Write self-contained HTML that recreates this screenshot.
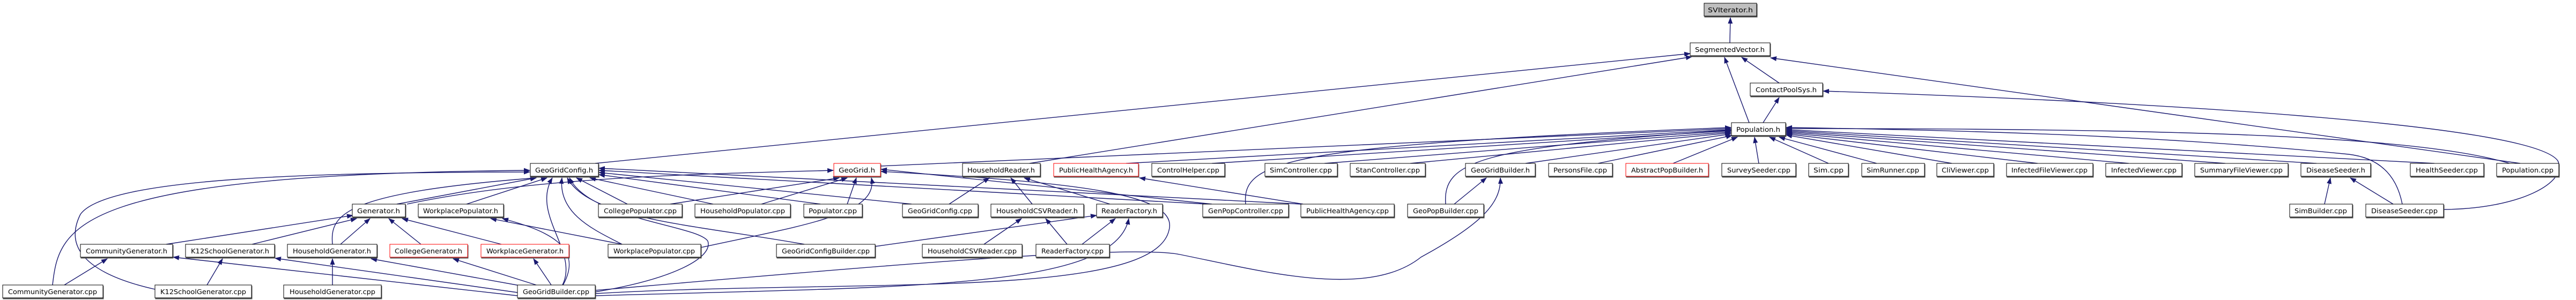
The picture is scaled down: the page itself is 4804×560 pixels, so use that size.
<!DOCTYPE html>
<html><head><meta charset="utf-8"><style>
html,body{margin:0;padding:0;background:#fff;}
svg{display:block;}
text{font-family:"DejaVu Sans","Liberation Sans",sans-serif;font-size:12px;fill:#000;}
.e{fill:none;stroke:#191970;stroke-width:1.4;marker-end:url(#a);}
.n rect{fill:#fff;stroke:#000;stroke-width:1;filter:drop-shadow(1px 2px 0 #555);}
</style></head><body>
<svg width="4804" height="560" viewBox="0 0 4804 560" xmlns="http://www.w3.org/2000/svg">
<defs><marker id="a" markerWidth="12" markerHeight="9" refX="11" refY="4.5" orient="auto" markerUnits="userSpaceOnUse"><path d="M0,0 L12,4.5 L0,9 z" fill="#191970"/></marker></defs>
<g>
<path class="e" d="M3226,80 L3227,33"/>
<path class="e" d="M3262,229 L3216,107"/>
<path class="e" d="M3318,155 L3248,107"/>
<path class="e" d="M3288,229 L3318,182"/>
<path class="e" d="M1110,305 L3152,100"/>
<path class="e" d="M1920,305 L3155,106"/>
<path class="e" d="M4700,305 L3302,108"/>
<path class="e" d="M4557,391 C4700,390 4790,340 4770,300 C4720,230 4000,190 3400,170"/>
<path class="e" d="M1642,310 L3228,240"/>
<path class="e" d="M2100,305 L3228,242"/>
<path class="e" d="M2260,305 L3228,244"/>
<path class="e" d="M2470,305 L3228,246"/>
<path class="e" d="M2630,305 L3228,248"/>
<path class="e" d="M2845,305 L3228,250"/>
<path class="e" d="M2980,305 L3230,253"/>
<path class="e" d="M3120,305 L3240,256"/>
<path class="e" d="M2323,381 C2315,300 2400,270 3228,238"/>
<path class="e" d="M2696,381 C2690,300 2760,275 3228,243"/>
<path class="e" d="M3280,305 L3272,256"/>
<path class="e" d="M3410,305 L3300,256"/>
<path class="e" d="M3500,305 L3318,256"/>
<path class="e" d="M3640,305 L3331,252"/>
<path class="e" d="M3800,305 L3331,250"/>
<path class="e" d="M3970,305 L3331,248"/>
<path class="e" d="M4150,305 L3331,246"/>
<path class="e" d="M4320,305 L3331,244"/>
<path class="e" d="M4540,305 L3331,242"/>
<path class="e" d="M4680,305 C4500,250 4000,240 3331,240"/>
<path class="e" d="M4480,381 C4470,330 4440,295 4380,288 C4100,260 3800,245 3331,238"/>
<path class="e" d="M740,381 L1000,332"/>
<path class="e" d="M870,381 L1020,332"/>
<path class="e" d="M1170,381 L1075,332"/>
<path class="e" d="M1330,381 L1100,332"/>
<path class="e" d="M1530,381 L1117,326"/>
<path class="e" d="M1700,381 L1117,322"/>
<path class="e" d="M620,456 C615,400 640,360 1000,332"/>
<path class="e" d="M98,532 C110,420 140,325 988,318"/>
<path class="e" d="M289,540 C200,520 110,480 150,400 C200,330 600,322 988,321"/>
<path class="e" d="M1049,532 C1080,470 990,400 1030,332"/>
<path class="e" d="M1160,456 C1110,430 1040,400 1048,332"/>
<path class="e" d="M1500,456 C1300,420 1100,410 1058,332"/>
<path class="e" d="M2250,381 L1117,318"/>
<path class="e" d="M2426,381 L1117,314"/>
<path class="e" d="M1110,545 C1260,520 1330,480 1320,450 C1300,420 1100,410 1062,332"/>
<path class="e" d="M759,381 C1000,330 1300,325 1554,318"/>
<path class="e" d="M1250,381 L1565,332"/>
<path class="e" d="M1420,381 L1580,332"/>
<path class="e" d="M1580,381 L1597,332"/>
<path class="e" d="M1307,462 C1500,420 1640,400 1625,332"/>
<path class="e" d="M2260,381 L1643,316"/>
<path class="e" d="M1110,548 C1600,520 2150,560 2180,430 C2200,360 2000,340 1643,320"/>
<path class="e" d="M1770,381 L1845,332"/>
<path class="e" d="M1925,381 L1885,332"/>
<path class="e" d="M2070,381 L1910,332"/>
<path class="e" d="M2430,381 L2125,332"/>
<path class="e" d="M1835,456 L1905,408"/>
<path class="e" d="M1990,456 L1950,408"/>
<path class="e" d="M1632,460 L2045,402"/>
<path class="e" d="M2018,456 L2080,408"/>
<path class="e" d="M1110,552 C1700,535 2080,540 2105,408"/>
<path class="e" d="M2712,381 L2772,332"/>
<path class="e" d="M1110,542 C1600,500 2100,455 2200,475 C2350,505 2550,560 2650,480 C2760,420 2800,380 2798,332"/>
<path class="e" d="M4335,381 L4346,332"/>
<path class="e" d="M4463,381 L4383,332"/>
<path class="e" d="M310,456 L658,402"/>
<path class="e" d="M470,456 L665,408"/>
<path class="e" d="M635,456 L690,408"/>
<path class="e" d="M785,456 L725,408"/>
<path class="e" d="M935,456 L750,408"/>
<path class="e" d="M1160,456 L915,408"/>
<path class="e" d="M1050,532 C1090,460 1020,430 937,408"/>
<path class="e" d="M120,532 L200,483"/>
<path class="e" d="M965,552 L323,480"/>
<path class="e" d="M386,532 L415,483"/>
<path class="e" d="M965,546 L513,482"/>
<path class="e" d="M620,532 L620,483"/>
<path class="e" d="M980,535 L692,483"/>
<path class="e" d="M1000,532 L845,483"/>
<path class="e" d="M1028,532 L995,483"/>
</g>
<g class="n">
<rect x="3178" y="6" width="98" height="24" style="fill:#bfbfbf"/><text x="3227" y="23" text-anchor="middle" textLength="84" lengthAdjust="spacingAndGlyphs">SVIterator.h</text>
</g>
<g class="n">
<rect x="3152" y="80" width="149" height="24"/><text x="3226" y="97" text-anchor="middle" textLength="130" lengthAdjust="spacingAndGlyphs">SegmentedVector.h</text>
<rect x="3264" y="155" width="135" height="24"/><text x="3331" y="172" text-anchor="middle" textLength="114" lengthAdjust="spacingAndGlyphs">ContactPoolSys.h</text>
<rect x="3229" y="229" width="101" height="24"/><text x="3279" y="246" text-anchor="middle" textLength="82" lengthAdjust="spacingAndGlyphs">Population.h</text>

<rect x="989" y="305" width="127" height="24"/><text x="1052" y="322" text-anchor="middle" textLength="108" lengthAdjust="spacingAndGlyphs">GeoGridConfig.h</text>
<rect x="1555" y="305" width="87" height="24" style="stroke:#ff0000"/><text x="1598" y="322" text-anchor="middle" textLength="68" lengthAdjust="spacingAndGlyphs">GeoGrid.h</text>
<rect x="1795" y="305" width="145" height="24"/><text x="1867" y="322" text-anchor="middle" textLength="126" lengthAdjust="spacingAndGlyphs">HouseholdReader.h</text>
<rect x="1965" y="305" width="158" height="24" style="stroke:#ff0000"/><text x="2044" y="322" text-anchor="middle" textLength="138" lengthAdjust="spacingAndGlyphs">PublicHealthAgency.h</text>
<rect x="2148" y="305" width="136" height="24"/><text x="2216" y="322" text-anchor="middle" textLength="116" lengthAdjust="spacingAndGlyphs">ControlHelper.cpp</text>
<rect x="2359" y="305" width="135" height="24"/><text x="2426" y="322" text-anchor="middle" textLength="116" lengthAdjust="spacingAndGlyphs">SimController.cpp</text>
<rect x="2518" y="305" width="140" height="24"/><text x="2588" y="322" text-anchor="middle" textLength="120" lengthAdjust="spacingAndGlyphs">StanController.cpp</text>
<rect x="2733" y="305" width="130" height="24"/><text x="2798" y="322" text-anchor="middle" textLength="110" lengthAdjust="spacingAndGlyphs">GeoGridBuilder.h</text>
<rect x="2888" y="305" width="119" height="24"/><text x="2947" y="322" text-anchor="middle" textLength="100" lengthAdjust="spacingAndGlyphs">PersonsFile.cpp</text>
<rect x="3032" y="305" width="154" height="24" style="stroke:#ff0000"/><text x="3109" y="322" text-anchor="middle" textLength="134" lengthAdjust="spacingAndGlyphs">AbstractPopBuilder.h</text>
<rect x="3211" y="305" width="138" height="24"/><text x="3280" y="322" text-anchor="middle" textLength="118" lengthAdjust="spacingAndGlyphs">SurveySeeder.cpp</text>
<rect x="3373" y="305" width="74" height="24"/><text x="3410" y="322" text-anchor="middle" textLength="56" lengthAdjust="spacingAndGlyphs">Sim.cpp</text>
<rect x="3472" y="305" width="117" height="24"/><text x="3530" y="322" text-anchor="middle" textLength="98" lengthAdjust="spacingAndGlyphs">SimRunner.cpp</text>
<rect x="3612" y="305" width="106" height="24"/><text x="3665" y="322" text-anchor="middle" textLength="88" lengthAdjust="spacingAndGlyphs">CliViewer.cpp</text>
<rect x="3742" y="305" width="161" height="24"/><text x="3822" y="322" text-anchor="middle" textLength="142" lengthAdjust="spacingAndGlyphs">InfectedFileViewer.cpp</text>
<rect x="3927" y="305" width="142" height="24"/><text x="3998" y="322" text-anchor="middle" textLength="122" lengthAdjust="spacingAndGlyphs">InfectedViewer.cpp</text>
<rect x="4093" y="305" width="174" height="24"/><text x="4180" y="322" text-anchor="middle" textLength="154" lengthAdjust="spacingAndGlyphs">SummaryFileViewer.cpp</text>
<rect x="4291" y="305" width="130" height="24"/><text x="4356" y="322" text-anchor="middle" textLength="110" lengthAdjust="spacingAndGlyphs">DiseaseSeeder.h</text>
<rect x="4495" y="305" width="137" height="24"/><text x="4563" y="322" text-anchor="middle" textLength="116" lengthAdjust="spacingAndGlyphs">HealthSeeder.cpp</text>
<rect x="4656" y="305" width="116" height="24"/><text x="4714" y="322" text-anchor="middle" textLength="96" lengthAdjust="spacingAndGlyphs">Population.cpp</text>

<rect x="657" y="381" width="99" height="24"/><text x="706" y="398" text-anchor="middle" textLength="80" lengthAdjust="spacingAndGlyphs">Generator.h</text>
<rect x="780" y="381" width="159" height="24"/><text x="859" y="398" text-anchor="middle" textLength="140" lengthAdjust="spacingAndGlyphs">WorkplacePopulator.h</text>
<rect x="1116" y="381" width="156" height="24"/><text x="1194" y="398" text-anchor="middle" textLength="136" lengthAdjust="spacingAndGlyphs">CollegePopulator.cpp</text>
<rect x="1296" y="381" width="178" height="24"/><text x="1385" y="398" text-anchor="middle" textLength="158" lengthAdjust="spacingAndGlyphs">HouseholdPopulator.cpp</text>
<rect x="1499" y="381" width="109" height="24"/><text x="1553" y="398" text-anchor="middle" textLength="90" lengthAdjust="spacingAndGlyphs">Populator.cpp</text>
<rect x="1683" y="381" width="141" height="24"/><text x="1753" y="398" text-anchor="middle" textLength="120" lengthAdjust="spacingAndGlyphs">GeoGridConfig.cpp</text>
<rect x="1848" y="381" width="173" height="24"/><text x="1934" y="398" text-anchor="middle" textLength="152" lengthAdjust="spacingAndGlyphs">HouseholdCSVReader.h</text>
<rect x="2045" y="381" width="123" height="24"/><text x="2106" y="398" text-anchor="middle" textLength="104" lengthAdjust="spacingAndGlyphs">ReaderFactory.h</text>
<rect x="2243" y="381" width="160" height="24"/><text x="2323" y="398" text-anchor="middle" textLength="140" lengthAdjust="spacingAndGlyphs">GenPopController.cpp</text>
<rect x="2426" y="381" width="174" height="24"/><text x="2513" y="398" text-anchor="middle" textLength="154" lengthAdjust="spacingAndGlyphs">PublicHealthAgency.cpp</text>
<rect x="2625" y="381" width="142" height="24"/><text x="2696" y="398" text-anchor="middle" textLength="122" lengthAdjust="spacingAndGlyphs">GeoPopBuilder.cpp</text>
<rect x="4270" y="381" width="117" height="24"/><text x="4328" y="398" text-anchor="middle" textLength="98" lengthAdjust="spacingAndGlyphs">SimBuilder.cpp</text>
<rect x="4412" y="381" width="145" height="24"/><text x="4484" y="398" text-anchor="middle" textLength="124" lengthAdjust="spacingAndGlyphs">DiseaseSeeder.cpp</text>

<rect x="150" y="456" width="172" height="24"/><text x="236" y="473" text-anchor="middle" textLength="152" lengthAdjust="spacingAndGlyphs">CommunityGenerator.h</text>
<rect x="346" y="456" width="166" height="24"/><text x="429" y="473" text-anchor="middle" textLength="146" lengthAdjust="spacingAndGlyphs">K12SchoolGenerator.h</text>
<rect x="536" y="456" width="167" height="24"/><text x="619" y="473" text-anchor="middle" textLength="146" lengthAdjust="spacingAndGlyphs">HouseholdGenerator.h</text>
<rect x="727" y="456" width="145" height="24" style="stroke:#ff0000"/><text x="799" y="473" text-anchor="middle" textLength="126" lengthAdjust="spacingAndGlyphs">CollegeGenerator.h</text>
<rect x="897" y="456" width="164" height="24" style="stroke:#ff0000"/><text x="979" y="473" text-anchor="middle" textLength="144" lengthAdjust="spacingAndGlyphs">WorkplaceGenerator.h</text>
<rect x="1134" y="456" width="173" height="24"/><text x="1220" y="473" text-anchor="middle" textLength="152" lengthAdjust="spacingAndGlyphs">WorkplacePopulator.cpp</text>
<rect x="1448" y="456" width="184" height="24"/><text x="1540" y="473" text-anchor="middle" textLength="164" lengthAdjust="spacingAndGlyphs">GeoGridConfigBuilder.cpp</text>
<rect x="1720" y="456" width="186" height="24"/><text x="1813" y="473" text-anchor="middle" textLength="166" lengthAdjust="spacingAndGlyphs">HouseholdCSVReader.cpp</text>
<rect x="1932" y="456" width="137" height="24"/><text x="2000" y="473" text-anchor="middle" textLength="116" lengthAdjust="spacingAndGlyphs">ReaderFactory.cpp</text>

<rect x="5" y="532" width="187" height="24"/><text x="98" y="549" text-anchor="middle" textLength="166" lengthAdjust="spacingAndGlyphs">CommunityGenerator.cpp</text>
<rect x="289" y="532" width="180" height="24"/><text x="379" y="549" text-anchor="middle" textLength="160" lengthAdjust="spacingAndGlyphs">K12SchoolGenerator.cpp</text>
<rect x="529" y="532" width="182" height="24"/><text x="620" y="549" text-anchor="middle" textLength="160" lengthAdjust="spacingAndGlyphs">HouseholdGenerator.cpp</text>
<rect x="965" y="532" width="145" height="24"/><text x="1037" y="549" text-anchor="middle" textLength="124" lengthAdjust="spacingAndGlyphs">GeoGridBuilder.cpp</text>
</g>
</svg>
</body></html>
